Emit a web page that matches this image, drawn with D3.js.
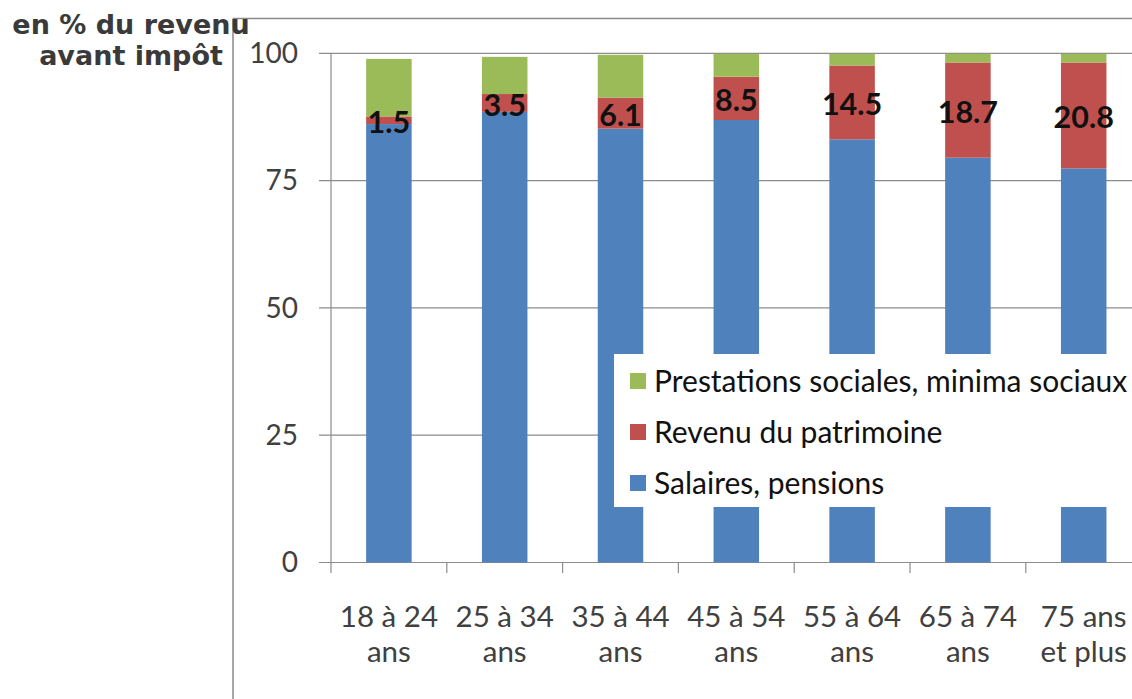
<!DOCTYPE html>
<html>
<head>
<meta charset="utf-8">
<script src="https://cdn.jsdelivr.net/npm/d3@7/dist/d3.min.js"></script>
<style>
  html, body { margin: 0; padding: 0; background: #fff; overflow: hidden; }
  svg { display: block; }
</style>
</head>
<body>
<svg id="chart" width="1132" height="699"></svg>
<script>
// ---- data ----
const categories = ["18 à 24 ans", "25 à 34 ans", "35 à 44 ans", "45 à 54 ans", "55 à 64 ans", "65 à 74 ans", "75 ans et plus"];
const categoryLines = [["18 à 24", "ans"], ["25 à 34", "ans"], ["35 à 44", "ans"], ["45 à 54", "ans"], ["55 à 64", "ans"], ["65 à 74", "ans"], ["75 ans", "et plus"]];
const salaires = [86.1, 88.5, 85.2, 86.9, 83.1, 79.5, 77.4];
const patrimoine = [1.5, 3.5, 6.1, 8.5, 14.5, 18.7, 20.8];
const prestations = [11.3, 7.3, 8.4, 4.5, 2.3, 1.7, 1.7];
const patrimoineLabels = ["1.5", "3.5", "6.1", "8.5", "14.5", "18.7", "20.8"];
const seriesNames = ["Salaires, pensions", "Revenu du patrimoine", "Prestations sociales, minima sociaux"];
const yTicks = [0, 25, 50, 75, 100];
const titleLines = ["en % du revenu", "avant impôt"];

const colors = { "Salaires, pensions": "#4F81BD", "Revenu du patrimoine": "#C0504D", "Prestations sociales, minima sociaux": "#9BBB59" };

const svg = d3.select("#chart");

// outer frame
svg.append("line").attr("x1", 233).attr("x2", 1132).attr("y1", 18.5).attr("y2", 18.5).attr("stroke", "#8a8a8a").attr("stroke-width", 1.5);
svg.append("line").attr("x1", 233).attr("x2", 233).attr("y1", 18.5).attr("y2", 699).attr("stroke", "#8a8a8a").attr("stroke-width", 1.5);

// scales
const x = d3.scaleBand().domain(categories).range([331, 331 + 7 * 115.8]).padding(0);
const y = d3.scaleLinear().domain([0, 100]).range([562.5, 53.3]);
const barW = x.bandwidth() * 0.393;

// gridlines + y ticks
const gAxisY = svg.append("g");
yTicks.forEach(t => {
  gAxisY.append("line").attr("x1", 319).attr("x2", 1132).attr("y1", y(t)).attr("y2", y(t))
    .attr("stroke", "#8c8c8c").attr("stroke-width", 1.2);
  gAxisY.append("text").attr("x", 298).attr("y", y(t)).attr("dy", "0.35em")
    .attr("text-anchor", "end").attr("font-family", "Lato").attr("font-size", 28)
    .attr("fill", "#404040").text(t);
});
// y axis line
svg.append("line").attr("x1", 331).attr("x2", 331).attr("y1", y(100)).attr("y2", y(0) + 10.5)
  .attr("stroke", "#8c8c8c").attr("stroke-width", 1.2);

// x ticks at category boundaries
categories.forEach((c, i) => {
  if (i === 0) return;
  svg.append("line").attr("x1", x(c)).attr("x2", x(c)).attr("y1", y(0)).attr("y2", y(0) + 10.5)
    .attr("stroke", "#8c8c8c").attr("stroke-width", 1.2);
});

// stacked data
const rows = categories.map((c, i) => ({
  cat: c,
  "Salaires, pensions": salaires[i],
  "Revenu du patrimoine": patrimoine[i],
  "Prestations sociales, minima sociaux": prestations[i]
}));
const stack = d3.stack().keys(seriesNames)(rows);

svg.append("g").selectAll("g").data(stack).join("g")
  .attr("fill", d => colors[d.key])
  .selectAll("rect").data(d => d).join("rect")
  .attr("x", d => x(d.data.cat) + (x.bandwidth() - barW) / 2)
  .attr("width", barW)
  .attr("y", d => y(d[1]))
  .attr("height", d => y(d[0]) - y(d[1]));

// data labels on patrimoine segment
const redLayer = stack[1];
svg.append("g").selectAll("text").data(redLayer).join("text")
  .attr("x", d => x(d.data.cat) + x.bandwidth() / 2)
  .attr("y", d => (y(d[0]) + y(d[1])) / 2 + 2)
  .attr("dy", "0.35em")
  .attr("text-anchor", "middle")
  .attr("font-family", "Lato").attr("font-weight", "bold").attr("font-size", 30.5)
  .attr("fill", "#111")
  .text((d, i) => patrimoineLabels[i]);

// category labels
const gx = svg.append("g");
categories.forEach((c, i) => {
  const t = gx.append("text").attr("x", x(c) + x.bandwidth() / 2).attr("text-anchor", "middle")
    .attr("font-family", "Lato").attr("font-size", 29.5).attr("fill", "#404040");
  categoryLines[i].forEach((ln, j) => {
    t.append("tspan").attr("x", x(c) + x.bandwidth() / 2).attr("y", 627 + j * 35).text(ln);
  });
});

// legend box (drawn over bars)
const lg = svg.append("g");
lg.append("rect").attr("x", 614).attr("y", 354).attr("width", 530).attr("height", 153).attr("fill", "#fff");
const legendOrder = [seriesNames[2], seriesNames[1], seriesNames[0]];
legendOrder.forEach((s, i) => {
  const cy = 381 + i * 51;
  lg.append("rect").attr("x", 630).attr("y", cy - 8).attr("width", 16).attr("height", 16).attr("fill", colors[s]);
  lg.append("text").attr("x", 654).attr("y", cy).attr("dy", "0.35em")
    .attr("font-family", "Lato").attr("font-size", 30).attr("fill", "#111").text(s);
});

// title
const tt = svg.append("text").attr("text-anchor", "middle").attr("font-family", "DejaVu Sans")
  .attr("font-weight", "bold").attr("font-size", 27).attr("fill", "#3a3a3a");
titleLines.forEach((ln, j) => {
  tt.append("tspan").attr("x", 131).attr("y", 34 + j * 31).text(ln);
});
</script>
</body>
</html>
